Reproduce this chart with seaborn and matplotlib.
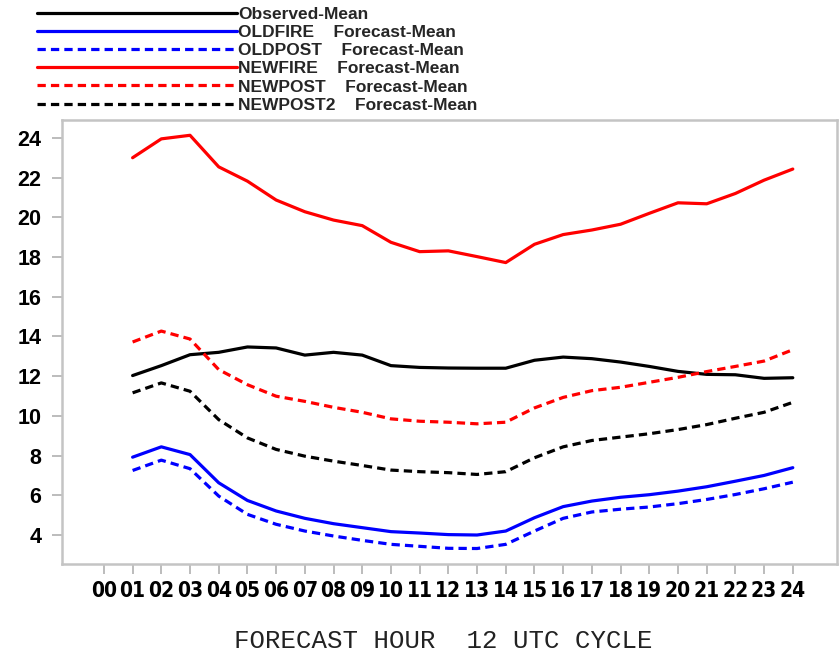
import os
import matplotlib
matplotlib.use("Agg")
import matplotlib.pyplot as plt
from matplotlib import font_manager
import seaborn as sns

# ---------------- data ----------------
hours = list(range(1, 25))
tick_hours = list(range(0, 25))
tick_labels = [f"{h:02d}" for h in tick_hours]
y_ticks = [4, 6, 8, 10, 12, 14, 16, 18, 20, 22, 24]

observed = [12.03, 12.53, 13.08, 13.20, 13.47, 13.42, 13.06, 13.20, 13.06, 12.53,
            12.44, 12.41, 12.40, 12.40, 12.80, 12.96, 12.88, 12.71, 12.49, 12.24,
            12.09, 12.07, 11.89, 11.92]
oldfire = [7.92, 8.44, 8.05, 6.63, 5.74, 5.21, 4.84, 4.57, 4.37, 4.17,
           4.10, 4.02, 4.00, 4.20, 4.87, 5.43, 5.71, 5.90, 6.03, 6.21,
           6.43, 6.71, 7.00, 7.39]
oldpost = [7.25, 7.77, 7.34, 5.96, 5.04, 4.54, 4.20, 3.95, 3.73, 3.53,
           3.43, 3.33, 3.32, 3.53, 4.20, 4.84, 5.16, 5.30, 5.41, 5.58,
           5.79, 6.04, 6.33, 6.66]
newfire = [23.00, 23.95, 24.13, 22.54, 21.82, 20.87, 20.28, 19.86, 19.58, 18.74,
           18.27, 18.31, 18.02, 17.72, 18.64, 19.13, 19.36, 19.65, 20.20, 20.73,
           20.68, 21.20, 21.87, 22.43]
newpost = [13.72, 14.27, 13.87, 12.33, 11.57, 10.99, 10.73, 10.43, 10.18, 9.85,
           9.73, 9.68, 9.60, 9.68, 10.40, 10.93, 11.27, 11.44, 11.69, 11.94,
           12.23, 12.49, 12.76, 13.33]
newpost2 = [11.16, 11.66, 11.24, 9.81, 8.89, 8.31, 7.97, 7.72, 7.50, 7.27,
            7.19, 7.14, 7.05, 7.19, 7.89, 8.44, 8.76, 8.93, 9.10, 9.31,
            9.56, 9.88, 10.18, 10.68]

series_labels = ["Observed-Mean",
                 "OLDFIRE    Forecast-Mean",
                 "OLDPOST    Forecast-Mean",
                 "NEWFIRE    Forecast-Mean",
                 "NEWPOST    Forecast-Mean",
                 "NEWPOST2    Forecast-Mean"]
series_values = [observed, oldfire, oldpost, newfire, newpost, newpost2]
series_colors = ["#000000", "#0000ff", "#0000ff", "#ff0000", "#ff0000", "#000000"]
series_dashed = [False, False, True, False, True, True]
x_title = "FORECAST HOUR  12 UTC CYCLE"

# ---------------- style ----------------
sns.set_theme(style="white")
plt.rcParams["font.family"] = ["Liberation Sans", "DejaVu Sans"]

# look for a condensed bold face for the x tick labels
narrow_fp = None
narrow_size = 15
for key, size in (("LiberationSansNarrow-Bold", 16.5), ("DejaVuSansCondensed-Bold", 15)):
    for f in font_manager.fontManager.ttflist:
        if os.path.basename(f.fname).startswith(key) and "Oblique" not in f.fname and "Italic" not in f.fname:
            narrow_fp = f.fname
            narrow_size = size
            break
    if narrow_fp:
        break

fig = plt.figure(figsize=(8.39, 6.55), dpi=100)
ax = fig.add_axes([62 / 839, 1 - 564 / 655, (837 - 62) / 839, (564 - 120) / 655])

handles = []
for lab, vals, col, dsh in zip(series_labels, series_values, series_colors, series_dashed):
    sns.lineplot(x=hours, y=vals, ax=ax, color=col, linewidth=2.3, label=lab)
    line = ax.get_lines()[-1]
    if dsh:
        line.set_dashes((2.6, 1.6))
    handles.append(line)

ax.set_xlim(-1.46, 25.54)
ax.set_ylim(2.54, 24.9)
ax.set_xticks(tick_hours)
ax.set_yticks(y_ticks)
if narrow_fp:
    fp = font_manager.FontProperties(fname=narrow_fp, size=narrow_size)
    ax.set_xticklabels(tick_labels, fontproperties=fp)
else:
    ax.set_xticklabels(tick_labels, fontweight="bold", fontsize=13.5)
ax.set_yticklabels([str(v) for v in y_ticks], fontweight="bold", fontsize=15.5)

for sp in ax.spines.values():
    sp.set_color("#c4c4c4")
    sp.set_linewidth(1.8)
ax.tick_params(axis="both", which="major", direction="out", length=7, width=1.2,
               color="#b0b0b0", labelcolor="black", bottom=True, left=True)
ax.tick_params(axis="y", pad=8)
ax.tick_params(axis="x", pad=5)
ax.grid(False)
ax.set_xlabel("")
ax.set_ylabel("")

fig.text(443 / 839, 1 - 641 / 655, x_title, fontfamily="Liberation Mono",
         fontsize=18.5, color="#222222", ha="center", va="center")

ax.get_legend().remove()
fig.legend(handles, series_labels, loc="upper left",
           bbox_to_anchor=(37 / 839, 1 - 7 / 655), frameon=False,
           prop={"family": "Liberation Sans", "weight": "bold", "size": 12.5},
           handlelength=11.5, handletextpad=0.08, labelspacing=0.17,
           borderpad=0, borderaxespad=0)

fig.savefig("out.png", dpi=100, facecolor="white")
